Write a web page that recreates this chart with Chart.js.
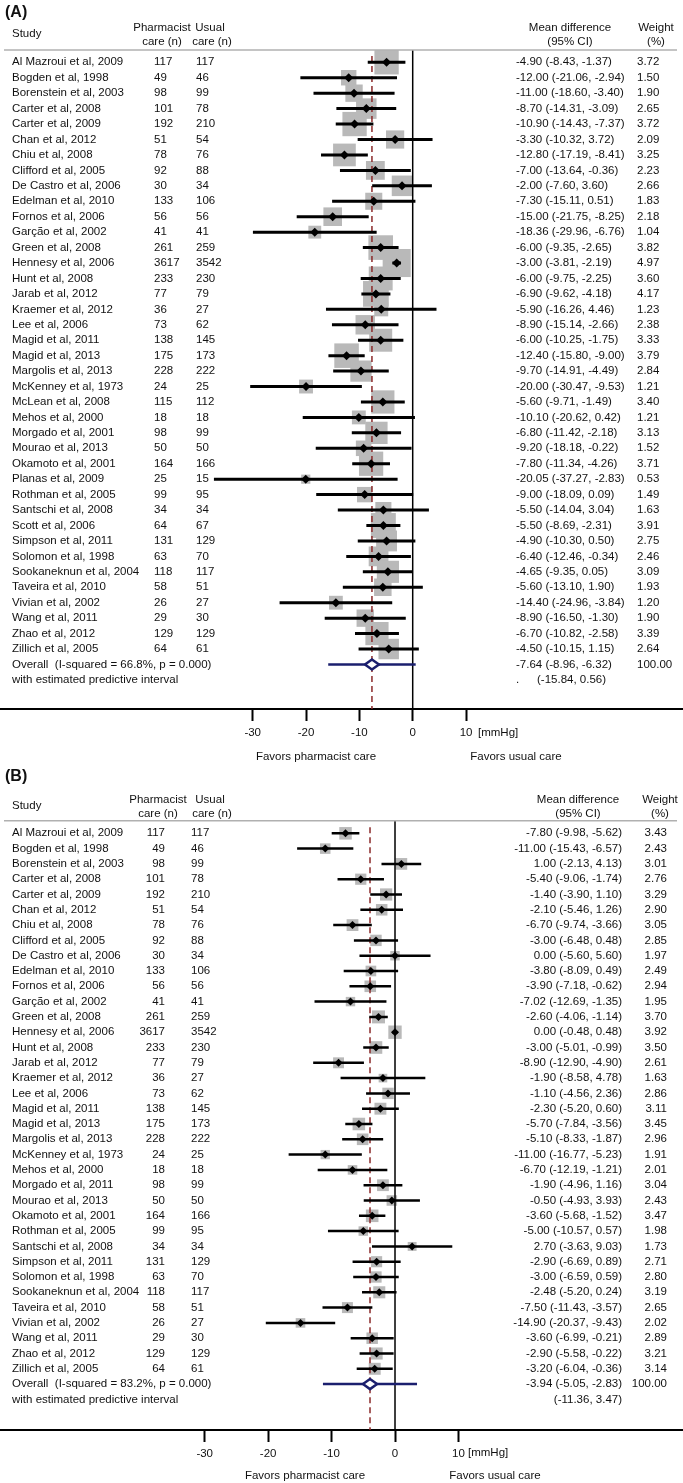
<!DOCTYPE html>
<html>
<head>
<meta charset="utf-8">
<script src="https://cdn.jsdelivr.net/npm/chart.js@4"></script>
<style>
  body { margin: 0; background: #fff; }
  canvas { display: block; }
</style>
</head>
<body>
<canvas id="panelA" width="683" height="765"></canvas>
<canvas id="panelB" width="683" height="718"></canvas>
<script>
const FONT = '"Liberation Sans", Arial, Helvetica, sans-serif';

// ---- (A) ----
const studiesA = ['Al Mazroui et al, 2009', 'Bogden et al, 1998', 'Borenstein et al, 2003', 'Carter et al, 2008',
  'Carter et al, 2009', 'Chan et al, 2012', 'Chiu et al, 2008', 'Clifford et al, 2005', 'De Castro et al, 2006',
  'Edelman et al, 2010', 'Fornos et al, 2006', 'Garção et al, 2002', 'Green et al, 2008', 'Hennesy et al, 2006',
  'Hunt et al, 2008', 'Jarab et al, 2012', 'Kraemer et al, 2012', 'Lee et al, 2006', 'Magid et al, 2011',
  'Magid et al, 2013', 'Margolis et al, 2013', 'McKenney et al, 1973', 'McLean et al, 2008', 'Mehos et al, 2000',
  'Morgado et al, 2001', 'Mourao et al, 2013', 'Okamoto et al, 2001', 'Planas et al, 2009', 'Rothman et al, 2005',
  'Santschi et al, 2008', 'Scott et al, 2006', 'Simpson et al, 2011', 'Solomon et al, 1998',
  'Sookaneknun et al, 2004', 'Taveira et al, 2010', 'Vivian et al, 2002', 'Wang et al, 2011', 'Zhao et al, 2012',
  'Zillich et al, 2005'];
const pharmA = [117, 49, 98, 101, 192, 51, 78, 92, 30, 133, 56, 41, 261, 3617, 233, 77, 36, 73, 138, 175, 228, 24,
  115, 18, 98, 50, 164, 25, 99, 34, 64, 131, 63, 118, 58, 26, 29, 129, 64];
const usualA = [117, 46, 99, 78, 210, 54, 76, 88, 34, 106, 56, 41, 259, 3542, 230, 79, 27, 62, 145, 173, 222, 25,
  112, 18, 99, 50, 166, 15, 95, 34, 67, 129, 70, 117, 51, 27, 30, 129, 61];
const mdA = [-4.90, -12.00, -11.00, -8.70, -10.90, -3.30, -12.80, -7.00, -2.00, -7.30, -15.00, -18.36, -6.00, -3.00,
  -6.00, -6.90, -5.90, -8.90, -6.00, -12.40, -9.70, -20.00, -5.60, -10.10, -6.80, -9.20, -7.80, -20.05, -9.00,
  -5.50, -5.50, -4.90, -6.40, -4.65, -5.60, -14.40, -8.90, -6.70, -4.50];
const loA = [-8.43, -21.06, -18.60, -14.31, -14.43, -10.32, -17.19, -13.64, -7.60, -15.11, -21.75, -29.96, -9.35,
  -3.81, -9.75, -9.62, -16.26, -15.14, -10.25, -15.80, -14.91, -30.47, -9.71, -20.62, -11.42, -18.18, -11.34,
  -37.27, -18.09, -14.04, -8.69, -10.30, -12.46, -9.35, -13.10, -24.96, -16.50, -10.82, -10.15];
const hiA = [-1.37, -2.94, -3.40, -3.09, -7.37, 3.72, -8.41, -0.36, 3.60, 0.51, -8.25, -6.76, -2.65, -2.19, -2.25,
  -4.18, 4.46, -2.66, -1.75, -9.00, -4.49, -9.53, -1.49, 0.42, -2.18, -0.22, -4.26, -2.83, 0.09, 3.04, -2.31, 0.50,
  -0.34, 0.05, 1.90, -3.84, -1.30, -2.58, 1.15];
const weightA = [3.72, 1.50, 1.90, 2.65, 3.72, 2.09, 3.25, 2.23, 2.66, 1.83, 2.18, 1.04, 3.82, 4.97, 3.60, 4.17,
  1.23, 2.38, 3.33, 3.79, 2.84, 1.21, 3.40, 1.21, 3.13, 1.52, 3.71, 0.53, 1.49, 1.63, 3.91, 2.75, 2.46, 3.09, 1.93,
  1.20, 1.90, 3.39, 2.64];
const overallA = [-7.64, -8.96, -6.32];   // estimate, lower, upper
const predictA = [-15.84, 0.56];
const hetA = 'Overall  (I-squared = 66.8%, p = 0.000)';

// ---- (B) ----
const studiesB = ['Al Mazroui et al, 2009', 'Bogden et al, 1998', 'Borenstein et al, 2003', 'Carter et al, 2008',
  'Carter et al, 2009', 'Chan et al, 2012', 'Chiu et al, 2008', 'Clifford et al, 2005', 'De Castro et al, 2006',
  'Edelman et al, 2010', 'Fornos et al, 2006', 'Garção et al, 2002', 'Green et al, 2008', 'Hennesy et al, 2006',
  'Hunt et al, 2008', 'Jarab et al, 2012', 'Kraemer et al, 2012', 'Lee et al, 2006', 'Magid et al, 2011',
  'Magid et al, 2013', 'Margolis et al, 2013', 'McKenney et al, 1973', 'Mehos et al, 2000', 'Morgado et al, 2011',
  'Mourao et al, 2013', 'Okamoto et al, 2001', 'Rothman et al, 2005', 'Santschi et al, 2008',
  'Simpson et al, 2011', 'Solomon et al, 1998', 'Sookaneknun et al, 2004', 'Taveira et al, 2010',
  'Vivian et al, 2002', 'Wang et al, 2011', 'Zhao et al, 2012', 'Zillich et al, 2005'];
const pharmB = [117, 49, 98, 101, 192, 51, 78, 92, 30, 133, 56, 41, 261, 3617, 233, 77, 36, 73, 138, 175, 228, 24,
  18, 98, 50, 164, 99, 34, 131, 63, 118, 58, 26, 29, 129, 64];
const usualB = [117, 46, 99, 78, 210, 54, 76, 88, 34, 106, 56, 41, 259, 3542, 230, 79, 27, 62, 145, 173, 222, 25,
  18, 99, 50, 166, 95, 34, 129, 70, 117, 51, 27, 30, 129, 61];
const mdB = [-7.80, -11.00, 1.00, -5.40, -1.40, -2.10, -6.70, -3.00, 0.00, -3.80, -3.90, -7.02, -2.60, 0.00, -3.00,
  -8.90, -1.90, -1.10, -2.30, -5.70, -5.10, -11.00, -6.70, -1.90, -0.50, -3.60, -5.00, 2.70, -2.90, -3.00, -2.48,
  -7.50, -14.90, -3.60, -2.90, -3.20];
const loB = [-9.98, -15.43, -2.13, -9.06, -3.90, -5.46, -9.74, -6.48, -5.60, -8.09, -7.18, -12.69, -4.06, -0.48,
  -5.01, -12.90, -8.58, -4.56, -5.20, -7.84, -8.33, -16.77, -12.19, -4.96, -4.93, -5.68, -10.57, -3.63, -6.69,
  -6.59, -5.20, -11.43, -20.37, -6.99, -5.58, -6.04];
const hiB = [-5.62, -6.57, 4.13, -1.74, 1.10, 1.26, -3.66, 0.48, 5.60, 0.49, -0.62, -1.35, -1.14, 0.48, -0.99,
  -4.90, 4.78, 2.36, 0.60, -3.56, -1.87, -5.23, -1.21, 1.16, 3.93, -1.52, 0.57, 9.03, 0.89, 0.59, 0.24, -3.57,
  -9.43, -0.21, -0.22, -0.36];
const weightB = [3.43, 2.43, 3.01, 2.76, 3.29, 2.90, 3.05, 2.85, 1.97, 2.49, 2.94, 1.95, 3.70, 3.92, 3.50, 2.61,
  1.63, 2.86, 3.11, 3.45, 2.96, 1.91, 2.01, 3.04, 2.43, 3.47, 1.98, 1.73, 2.71, 2.80, 3.19, 2.65, 2.02, 2.89, 3.21,
  3.14];
const overallB = [-3.94, -5.05, -2.83];
const predictB = [-11.36, 3.47];
const hetB = 'Overall  (I-squared = 83.2%, p = 0.000)';

const ticksX = [-30, -20, -10, 0, 10];

const fmt = v => v.toFixed(2);

function textoPanel(p) {
    return {
        id: 'texto' + p.label,
        afterDraw(chart) {
            const ctx = chart.ctx;
            const ys = chart.scales.y;
            const n = p.studies.length;
            const t = (s, x, y, align) => { ctx.textAlign = align || 'left'; ctx.fillText(s, x, y); };

            ctx.save();
            ctx.fillStyle = '#111';
            ctx.textBaseline = 'middle';

            ctx.font = 'bold 16px ' + FONT;
            t('(' + p.label + ')', 5, p.titleY);

            ctx.font = p.fontSize + 'px ' + FONT;
            t('Study', p.colStudy, p.studyY);
            t('Pharmacist', p.hdrPharm, p.hdr1Y, 'center');
            t('care (n)', p.hdrPharm, p.hdr2Y, 'center');
            t('Usual', p.hdrUsual, p.hdr1Y, 'center');
            t('care (n)', p.hdrUsual + 2, p.hdr2Y, 'center');
            t('Mean difference', p.hdrCI, p.hdr1Y, 'center');
            t('(95% CI)', p.hdrCI, p.hdr2Y, 'center');
            t('Weight', p.hdrW, p.hdr1Y, 'center');
            t('(%)', p.hdrW, p.hdr2Y, 'center');

            ctx.strokeStyle = '#b0b0b0';
            ctx.lineWidth = 1.5;
            ctx.beginPath();
            ctx.moveTo(4, p.sepY);
            ctx.lineTo(677, p.sepY);
            ctx.stroke();

            p.studies.forEach((s, i) => {
                const py = ys.getPixelForValue(i);
                t(s, p.colStudy, py);
                t(String(p.pharm[i]), p.colPharm, py, p.alignPharm);
                t(String(p.usual[i]), p.colUsual, py);
                t(fmt(p.md[i]) + ' (' + fmt(p.lo[i]) + ', ' + fmt(p.hi[i]) + ')', p.colCI, py, p.alignCI);
                t(fmt(p.w[i]), p.colW, py, p.alignW);
            });

            const po = ys.getPixelForValue(n);
            const pp = ys.getPixelForValue(n + 1);
            t(p.het, p.colStudy, po);
            t('with estimated predictive interval', p.colStudy, pp);
            t(fmt(p.overall[0]) + ' (' + fmt(p.overall[1]) + ', ' + fmt(p.overall[2]) + ')', p.colCI, po, p.alignCI);
            t('100.00', p.colW, po, p.alignW);
            const predTxt = '(' + fmt(p.predict[0]) + ', ' + fmt(p.predict[1]) + ')';
            if (p.alignCI === 'left') {
                t('.', p.colCI, pp);
                t(predTxt, p.colCI + 21, pp);
            } else {
                t(predTxt, p.colCI, pp, 'right');
            }

            t('[mmHg]', p.unitX, p.tickY);
            t('Favors pharmacist care', p.favL, p.favY, 'center');
            t('Favors usual care', p.favR, p.favY, 'center');
            ctx.restore();
        }
    };
}

function crearPanel(canvasId, p) {
    const n = p.studies.length;
    const yMin = -p.row0 / p.rowH;
    const yMax = (p.axisY - p.row0) / p.rowH;
    const ySep = (p.sepY - p.row0) / p.rowH;
    const dh = 5 / p.rowH;
    const rOv = n;

    const ciData = [];
    p.lo.forEach((lo, i) => {
        ciData.push({ x: lo, y: i }, { x: p.hi[i], y: i }, { x: lo, y: null });
    });

    const linea = (data, color, width, extra) => Object.assign({
        type: 'line', data: data, borderColor: color, borderWidth: width,
        pointRadius: 0, fill: false, tension: 0, spanGaps: false
    }, extra || {});

    new Chart(document.getElementById(canvasId), {
        type: 'scatter',
        data: {
            datasets: [
                {
                    data: p.md.map((v, i) => ({ x: v, y: i })),
                    pointStyle: 'rect',
                    pointRadius: p.w.map(w => p.boxK * Math.sqrt(w) / Math.SQRT2),
                    backgroundColor: '#b9b9b9',
                    borderWidth: 0,
                    order: 7
                },
                linea([{ x: 0, y: ySep }, { x: 0, y: yMax }], '#000', 1.5, { order: 6 }),
                linea([{ x: p.overall[0], y: -0.4 }, { x: p.overall[0], y: yMax }], '#8b2a2a', 1.5,
                    { borderDash: [6, 4], order: 5 }),
                linea(ciData, '#000', p.ciW, { order: 4 }),
                {
                    data: p.md.map((v, i) => ({ x: v, y: i })),
                    pointStyle: 'rectRot',
                    pointRadius: p.markR,
                    backgroundColor: '#000',
                    borderWidth: 0,
                    order: 3
                },
                linea([{ x: p.predict[0], y: rOv }, { x: p.predict[1], y: rOv }], '#1b1f6e', 2.5, { order: 2 }),
                linea([
                    { x: p.overall[1], y: rOv }, { x: p.overall[0], y: rOv - dh },
                    { x: p.overall[2], y: rOv }, { x: p.overall[0], y: rOv + dh },
                    { x: p.overall[1], y: rOv }
                ], '#1b1f6e', 2.5, { fill: 'shape', backgroundColor: '#fff', order: 1 })
            ]
        },
        options: {
            responsive: false,
            animation: false,
            events: [],
            layout: { padding: 0, autoPadding: false },
            plugins: { legend: { display: false }, tooltip: { enabled: false } },
            scales: {
                x: {
                    type: 'linear',
                    min: p.xMin,
                    max: p.xMax,
                    afterBuildTicks: s => { s.ticks = ticksX.map(v => ({ value: v })); },
                    afterFit: s => { s.height = p.H - p.axisY; },
                    ticks: {
                        autoSkip: false, maxRotation: 0, padding: 5, color: '#111',
                        font: { family: FONT, size: p.fontSize },
                        callback: v => String(v)
                    },
                    grid: { drawOnChartArea: false, drawTicks: true, tickLength: 12, tickWidth: 2, tickColor: '#000' },
                    border: { display: true, color: '#000', width: 2 }
                },
                y: { type: 'linear', display: false, reverse: true, min: yMin, max: yMax }
            }
        },
        plugins: [textoPanel(p)]
    });
}

crearPanel('panelA', {
    label: 'A', studies: studiesA, pharm: pharmA, usual: usualA, md: mdA, lo: loA, hi: hiA, w: weightA,
    overall: overallA, predict: predictA, het: hetA,
    H: 765, axisY: 709, row0: 62.3, rowH: 15.44, xMin: -77.38, xMax: 50.68,
    boxK: 12.6, ciW: 3, markR: 4.5, fontSize: 11.5,
    titleY: 13, hdr1Y: 28, hdr2Y: 42, studyY: 34, sepY: 50,
    colStudy: 12, colPharm: 154, alignPharm: 'left', colUsual: 196,
    colCI: 516, alignCI: 'left', colW: 637, alignW: 'left',
    hdrPharm: 162, hdrUsual: 210, hdrCI: 570, hdrW: 656,
    unitX: 478, tickY: 733, favL: 316, favR: 516, favY: 757
});

crearPanel('panelB', {
    label: 'B', studies: studiesB, pharm: pharmB, usual: usualB, md: mdB, lo: loB, hi: hiB, w: weightB,
    overall: overallB, predict: predictB, het: hetB,
    H: 718, axisY: 665, row0: 68.3, rowH: 15.3, xMin: -62.27, xMax: 45.4,
    boxK: 6.75, ciW: 2.5, markR: 4, fontSize: 11.5,
    titleY: 12, hdr1Y: 35, hdr2Y: 49, studyY: 41, sepY: 55.7,
    colStudy: 12, colPharm: 165, alignPharm: 'right', colUsual: 191,
    colCI: 622, alignCI: 'right', colW: 667, alignW: 'right',
    hdrPharm: 158, hdrUsual: 210, hdrCI: 578, hdrW: 660,
    unitX: 468, tickY: 688, favL: 305, favR: 495, favY: 711
});
</script>
</body>
</html>
